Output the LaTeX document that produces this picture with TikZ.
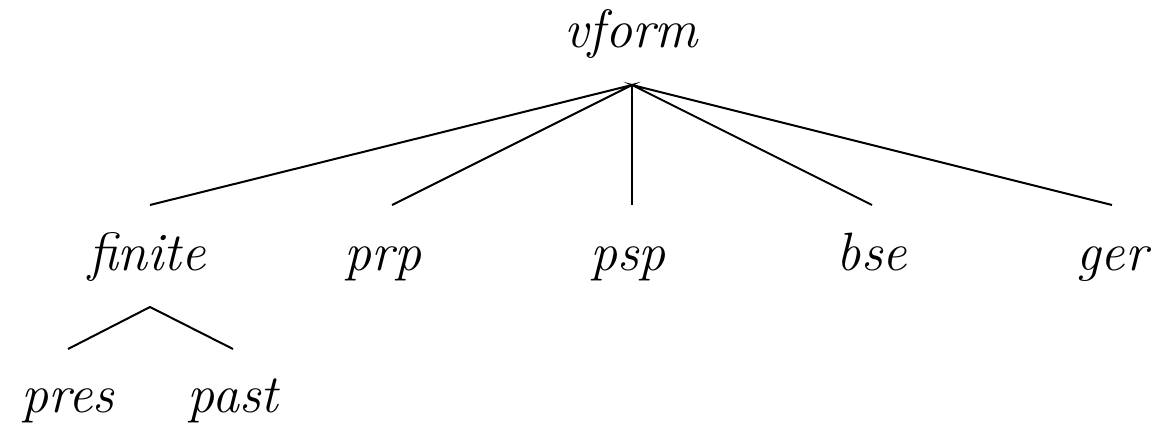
\documentclass[tikz,border=0pt]{standalone}
\begin{document}
\begin{tikzpicture}[x=0.5pt,y=-0.5pt,
  lbl/.style={anchor=base,inner sep=0pt,font=\fontsize{27}{31}\selectfont\itshape},
  edge/.style={line width=1pt}]
\useasboundingbox (0,0) rectangle (1158,424);
\node[lbl] (vform) at (631,47) {vform};
\node[lbl] (finite) at (147,270) {finite};
\node[lbl] (prp) at (383,270) {prp};
\node[lbl] (psp) at (628,270) {psp};
\node[lbl] (bse) at (872,270) {bse};
\node[lbl] (ger) at (1112,270) {ger};
\node[lbl] (pres) at (68,412) {pres};
\node[lbl] (past) at (233,412) {past};
\coordinate (vtop) at (632,85);
\coordinate (c1) at (150,205);
\coordinate (c2) at (392,205);
\coordinate (c3) at (632,205);
\coordinate (c4) at (872,205);
\coordinate (c5) at (1112,205);
\coordinate (ftop) at (150,307);
\coordinate (d1) at (68,349);
\coordinate (d2) at (233,349);
\draw[edge] (c1) -- (vtop) -- (c2);
\draw[edge] (vtop) -- (c3);
\draw[edge] (c4) -- (vtop) -- (c5);
\draw[edge] (d1) -- (ftop) -- (d2);
\end{tikzpicture}
\end{document}
